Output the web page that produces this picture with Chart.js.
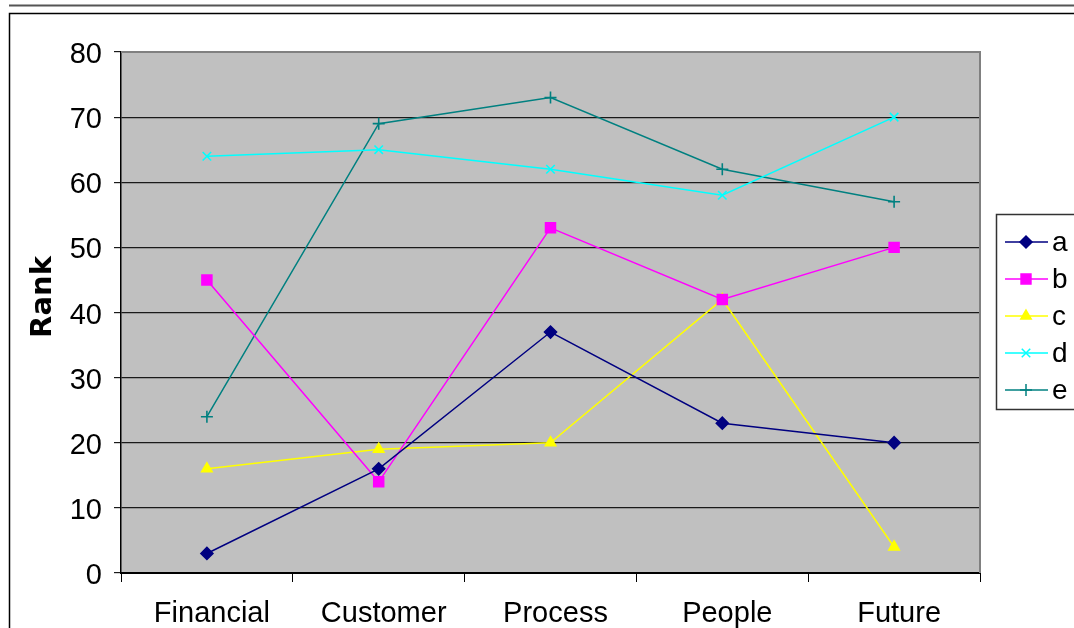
<!DOCTYPE html>
<html>
<head>
<meta charset="utf-8">
<script src="https://cdn.jsdelivr.net/npm/chart.js@4.4.1/dist/chart.umd.min.js"></script>
<style>
  html, body { margin: 0; padding: 0; background: #ffffff; }
  #wrap { width: 1074px; height: 628px; position: relative; overflow: hidden; }
  canvas { display: block; }
</style>
</head>
<body>
<div id="wrap"><canvas id="chart" width="1074" height="628"></canvas></div>
<script>
// Perspectives along the horizontal axis
const categories = ['Financial', 'Customer', 'Process', 'People', 'Future'];

// Rank per perspective for each series
const seriesA = [3, 16, 37, 23, 20];
const seriesB = [45, 14, 53, 42, 50];
const seriesC = [16, 19, 20, 42, 4];
const seriesD = [64, 65, 62, 58, 70];
const seriesE = [24, 69, 73, 62, 57];

const seriesNames = ['a', 'b', 'c', 'd', 'e'];
const yTicks = [0, 10, 20, 30, 40, 50, 60, 70, 80];
const axisTitle = 'Rank';

const FONT = '"Liberation Sans", Arial, sans-serif';

const styles = [
  { color: '#000080', point: 'rectRot', radius: 6 },
  { color: '#FF00FF', point: 'rect', radius: 7 },
  { color: '#FFFF00', point: 'triangle', radius: 6 },
  { color: '#00FFFF', point: 'crossRot', radius: 6 },
  { color: '#008080', point: 'cross', radius: 6 }
];

const values = [seriesA, seriesB, seriesC, seriesD, seriesE];

const datasets = values.map((v, i) => ({
  label: seriesNames[i],
  data: v,
  borderColor: styles[i].color,
  backgroundColor: styles[i].color,
  borderWidth: 1.5,
  pointStyle: styles[i].point,
  pointRadius: styles[i].radius,
  pointBorderWidth: 1.6,
  pointBackgroundColor: styles[i].color,
  pointBorderColor: styles[i].color,
  tension: 0,
  fill: false
}));

// Page frame, plot background and plot border
const framePlugin = {
  id: 'frame',
  beforeDraw(chart) {
    const ctx = chart.ctx;
    const a = chart.chartArea;
    ctx.save();
    ctx.fillStyle = '#ffffff';
    ctx.fillRect(0, 0, chart.width, chart.height);
    // rule across the top
    ctx.strokeStyle = '#555555';
    ctx.lineWidth = 2;
    ctx.beginPath();
    ctx.moveTo(9, 5.5);
    ctx.lineTo(chart.width, 5.5);
    ctx.stroke();
    // outer chart frame
    ctx.strokeStyle = '#000000';
    ctx.lineWidth = 1.5;
    ctx.beginPath();
    ctx.moveTo(chart.width + 2, 13.5);
    ctx.lineTo(9.5, 13.5);
    ctx.lineTo(9.5, chart.height + 2);
    ctx.stroke();
    // plot area fill
    ctx.fillStyle = '#C0C0C0';
    ctx.fillRect(a.left, a.top, a.right - a.left, a.bottom - a.top);
    ctx.restore();
  },
  beforeDatasetsDraw(chart) {
    const ctx = chart.ctx;
    const a = chart.chartArea;
    ctx.save();
    ctx.strokeStyle = '#808080';
    ctx.lineWidth = 2;
    ctx.beginPath();
    ctx.moveTo(a.left, a.top);
    ctx.lineTo(a.right, a.top);
    ctx.lineTo(a.right, a.bottom);
    ctx.stroke();
    // rotated axis title
    ctx.fillStyle = '#000000';
    ctx.font = 'bold 29px "DejaVu Sans", sans-serif';
    ctx.textAlign = 'center';
    ctx.textBaseline = 'middle';
    ctx.translate(43, 297);
    ctx.rotate(-Math.PI / 2);
    ctx.fillText(axisTitle, 0, 0);
    ctx.restore();
  }
};

// Legend box at the right edge
const legendPlugin = {
  id: 'boxLegend',
  afterDraw(chart) {
    const ctx = chart.ctx;
    ctx.save();
    ctx.fillStyle = '#ffffff';
    ctx.fillRect(996, 214, 90, 195);
    ctx.strokeStyle = '#333333';
    ctx.lineWidth = 1.5;
    ctx.strokeRect(996.5, 214.5, 100, 195);
    chart.data.datasets.forEach((ds, i) => {
      const y = 242 + i * 37;
      ctx.strokeStyle = ds.borderColor;
      ctx.lineWidth = 1.5;
      ctx.beginPath();
      ctx.moveTo(1005, y);
      ctx.lineTo(1048, y);
      ctx.stroke();
      ctx.fillStyle = ds.pointBackgroundColor;
      ctx.strokeStyle = ds.pointBorderColor;
      Chart.helpers.drawPoint(ctx, {
        pointStyle: ds.pointStyle,
        rotation: 0,
        radius: ds.pointRadius,
        borderWidth: ds.pointBorderWidth
      }, 1026, y);
      ctx.fillStyle = '#000000';
      ctx.font = '28px ' + FONT;
      ctx.textAlign = 'left';
      ctx.textBaseline = 'middle';
      ctx.fillText(ds.label, 1052, y + 1);
    });
    ctx.restore();
  }
};

new Chart(document.getElementById('chart'), {
  type: 'line',
  data: { labels: categories, datasets },
  options: {
    responsive: false,
    animation: false,
    devicePixelRatio: 1,
    layout: { padding: { left: 0, top: 52, right: 94, bottom: 0 } },
    plugins: {
      legend: { display: false },
      tooltip: { enabled: false },
      title: { display: false }
    },
    scales: {
      x: {
        type: 'category',
        offset: true,
        afterFit(scale) { scale.height = 55; },
        grid: {
          offset: true,
          drawOnChartArea: false,
          drawTicks: true,
          tickLength: 9,
          color: '#000000',
          lineWidth: 1
        },
        border: { display: true, color: '#000000', width: 2 },
        ticks: {
          color: '#000000',
          font: { family: FONT, size: 29 },
          padding: 15,
          labelOffset: 5,
          maxRotation: 0,
          autoSkip: false
        }
      },
      y: {
        min: yTicks[0],
        max: yTicks[yTicks.length - 1],
        afterFit(scale) { scale.width = 121; },
        afterBuildTicks(scale) { scale.ticks = yTicks.map(v => ({ value: v })); },
        grid: {
          drawOnChartArea: true,
          drawTicks: true,
          tickLength: 7,
          color: '#1a1a1a',
          lineWidth: 1.2
        },
        border: { display: true, color: '#000000', width: 1.5 },
        ticks: {
          color: '#000000',
          font: { family: FONT, size: 29 },
          padding: 12,
          labelOffset: 3,
          stepSize: 10
        }
      }
    }
  },
  plugins: [framePlugin, legendPlugin]
});
</script>
</body>
</html>
